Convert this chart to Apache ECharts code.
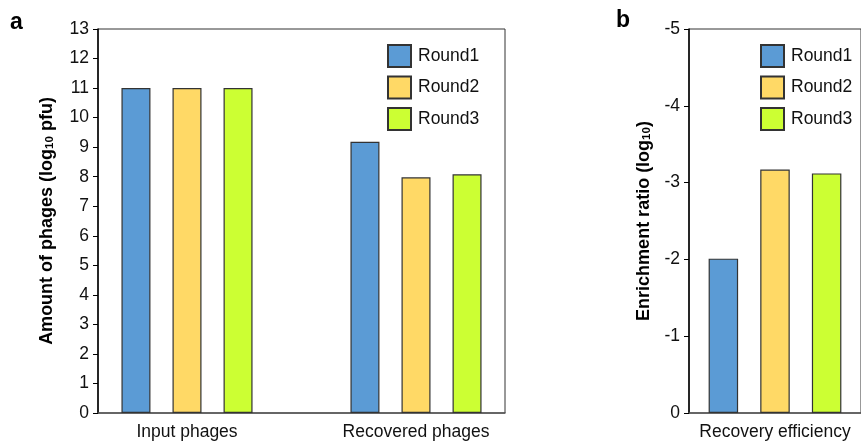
<!DOCTYPE html>
<html>
<head>
<meta charset="utf-8">
<script src="https://cdn.jsdelivr.net/npm/echarts@6/dist/echarts.min.js"></script>
<style>html,body{margin:0;padding:0;background:#fff}#c{width:861px;height:445px}</style>
</head>
<body>
<div id="c"></div>
<script>
// Panel a data
const categoriesA = ['Input phages', 'Recovered phages'];
const round1A = [11, 9.18];
const round2A = [11, 7.98];
const round3A = [11, 8.08];
// Panel b data
const categoriesB = ['Recovery efficiency'];
const round1B = [-2.01];
const round2B = [-3.17];
const round3B = [-3.12];
const seriesNames = ['Round1', 'Round2', 'Round3'];
const colors = ['#5B9BD5', '#FFD966', '#CCFF33'];

const FONT = 'Liberation Sans, Arial, sans-serif';
const FS = 17.5;
const chart = echarts.init(document.getElementById('c'), null, {renderer: 'canvas'});

const nameRich = {
  b: {fontFamily: FONT, fontWeight: 'bold', fontSize: 18, color: '#000', verticalAlign: 'bottom', lineHeight: 21},
  s: {fontFamily: FONT, fontWeight: 'bold', fontSize: 11.5, color: '#000', verticalAlign: 'bottom', lineHeight: 16}
};

function barSeries(name, data, xi, yi, color, bw, gap) {
  return {
    type: 'bar', name: name, data: data, xAxisIndex: xi, yAxisIndex: yi,
    barWidth: bw, barGap: gap,
    itemStyle: {color: color, borderColor: '#333', borderWidth: 1.2},
    emphasis: {disabled: true}, animation: false
  };
}

const legendBase = {
  data: seriesNames, orient: 'vertical', itemWidth: 23, itemHeight: 22, itemGap: 7.5,
  icon: 'rect', selectedMode: false, padding: 0,
  textStyle: {fontFamily: FONT, fontSize: FS, color: '#111', padding: [0, 0, 0, 2]}
};

const option = {
  animation: false,
  backgroundColor: '#fff',
  title: [
    {text: 'a', left: 5, top: 6, textStyle: {fontFamily: FONT, fontWeight: 'bold', fontSize: 23, color: '#000'}},
    {text: 'b', left: 611, top: 4, textStyle: {fontFamily: FONT, fontWeight: 'bold', fontSize: 23, color: '#000'}}
  ],
  legend: [
    Object.assign({}, legendBase, {left: 387, top: 44}),
    Object.assign({}, legendBase, {left: 760, top: 44})
  ],
  grid: [
    {left: 98, top: 29, width: 407, height: 384, show: true, borderColor: '#333', borderWidth: 1, containLabel: false},
    {left: 72.5, top: 29, width: 458, height: 384, show: false, containLabel: false},
    {left: 689, top: 29, width: 179, height: 384, show: true, borderColor: '#333', borderWidth: 1, containLabel: false}
  ],
  xAxis: [
    {gridIndex: 0, type: 'value', min: 0, max: 1, axisLine: {show: true, lineStyle: {color: '#555', width: 1.5}},
     axisTick: {show: false}, axisLabel: {show: false}, splitLine: {show: false}},
    {gridIndex: 1, type: 'category', data: categoriesA, axisLine: {show: false}, axisTick: {show: false},
     axisLabel: {margin: 10, fontFamily: FONT, fontSize: FS, color: '#111'}},
    {gridIndex: 2, type: 'category', data: categoriesB, axisLine: {show: true, lineStyle: {color: '#555', width: 1.5}},
     axisTick: {show: false}, axisLabel: {margin: 10, fontFamily: FONT, fontSize: FS, color: '#111'}}
  ],
  yAxis: [
    {gridIndex: 0, type: 'value', min: 0, max: 13, interval: 1,
     axisLine: {show: true, lineStyle: {color: '#000', width: 1.5}},
     axisTick: {show: true, length: 5, lineStyle: {color: '#000'}},
     axisLabel: {margin: 9, fontFamily: FONT, fontSize: FS, color: '#111'},
     splitLine: {show: false},
     name: '{b|Amount of phages (log}{s|10}{b| pfu)}', nameLocation: 'middle', nameRotate: 90, nameGap: 42,
     nameTextStyle: {rich: nameRich}},
    {gridIndex: 1, type: 'value', min: 0, max: 13, interval: 1, show: false},
    {gridIndex: 2, type: 'value', min: -5, max: 0, interval: 1, inverse: true,
     axisLine: {show: true, lineStyle: {color: '#000', width: 1.5}},
     axisTick: {show: true, length: 5, lineStyle: {color: '#000'}},
     axisLabel: {margin: 9, fontFamily: FONT, fontSize: FS, color: '#111'},
     splitLine: {show: false},
     name: '{b|Enrichment ratio (log}{s|10}{b|)}', nameLocation: 'middle', nameRotate: 90, nameGap: 36,
     nameTextStyle: {rich: nameRich}}
  ],
  series: [
    barSeries(seriesNames[0], round1A, 1, 1, colors[0], 29, '76%'),
    barSeries(seriesNames[1], round2A, 1, 1, colors[1], 29, '76%'),
    barSeries(seriesNames[2], round3A, 1, 1, colors[2], 29, '76%'),
    barSeries(seriesNames[0], round1B, 2, 2, colors[0], 29.5, '75%'),
    barSeries(seriesNames[1], round2B, 2, 2, colors[1], 29.5, '75%'),
    barSeries(seriesNames[2], round3B, 2, 2, colors[2], 29.5, '75%')
  ]
};
chart.setOption(option);
</script>
</body>
</html>
